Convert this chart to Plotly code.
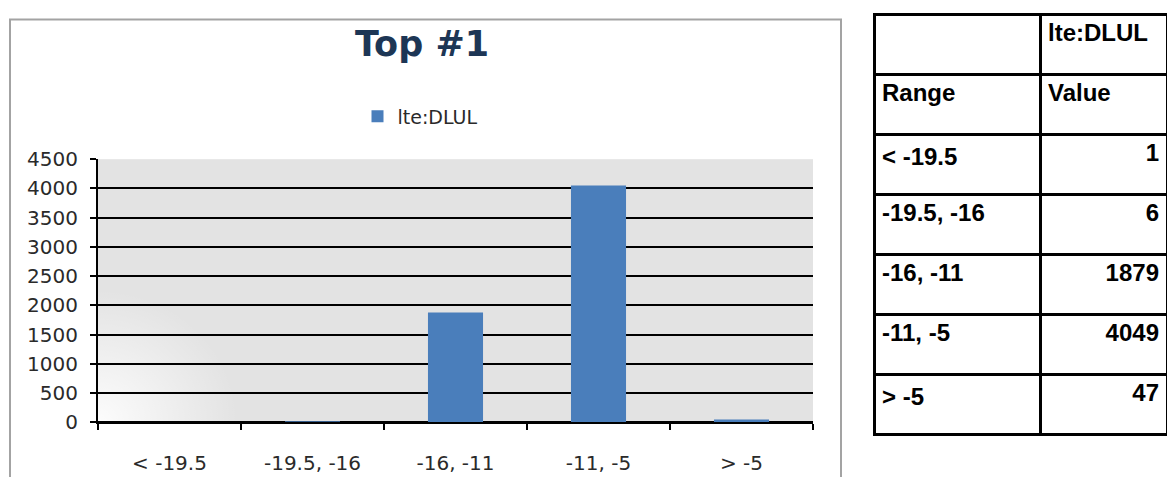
import base64
import plotly.graph_objects as go

# Signal-range histogram for lte:DLUL
ranges = ["< -19.5", "-19.5, -16", "-16, -11", "-11, -5", "> -5"]
counts = [1, 6, 1879, 4049, 47]
series_name = "lte:DLUL"
chart_title = "Top #1"
y_ticks = [0, 500, 1000, 1500, 2000, 2500, 3000, 3500, 4000, 4500]

W, H = 1167, 477

def px_x(v):
    return v / W

def px_y(v):
    return (H - v) / H

def html_escape(s):
    return s.replace("&", "&amp;").replace("<", "&lt;").replace(">", "&gt;")

BAR_BLUE = "#4a7ebb"
PLOT_GREY = "#e3e3e3"
TEXT_DARK = "#2a2a2a"

fig = go.Figure()

fig.add_trace(go.Bar(
    x=ranges,
    y=counts,
    name=series_name,
    width=0.385,
    marker=dict(color=BAR_BLUE, line=dict(width=0)),
    showlegend=True,
))

# Data table beside the chart: two header rows, then one row per range
table_font = dict(family="Liberation Sans", size=24, color="black", weight="bold")
table_line = dict(color="black", width=3)
ROW_H = 60

fig.add_trace(go.Table(
    domain=dict(x=[px_x(874), 1.0], y=[0.0, px_y(3)]),
    columnwidth=[166, 127],
    header=dict(
        values=[["", "Range"], [series_name, "Value"]],
        align="left",
        height=ROW_H,
        line=table_line,
        fill_color="white",
        font=table_font,
    ),
    cells=dict(
        values=[[html_escape(r) for r in ranges], [str(c) for c in counts]],
        align=["left", "right"],
        height=ROW_H,
        line=table_line,
        fill_color="white",
        font=table_font,
    ),
))

# Soft white glow in the lower-left corner of the plot area
glow_svg = (
    '<svg xmlns="http://www.w3.org/2000/svg" width="715" height="277" '
    'viewBox="0 0 715 277" preserveAspectRatio="none">'
    '<defs><radialGradient id="g" cx="0" cy="277" r="140" gradientUnits="userSpaceOnUse">'
    '<stop offset="0" stop-color="#ffffff" stop-opacity="0.9"/>'
    '<stop offset="1" stop-color="#ffffff" stop-opacity="0"/>'
    '</radialGradient></defs>'
    '<rect x="0" y="0" width="715" height="277" fill="url(#g)"/></svg>'
)
glow_uri = "data:image/svg+xml;base64," + base64.b64encode(glow_svg.encode()).decode()

fig.update_layout(
    width=W,
    height=H,
    margin=dict(l=0, r=0, t=0, b=0),
    paper_bgcolor="white",
    plot_bgcolor=PLOT_GREY,
    font=dict(family="DejaVu Sans", size=20, color=TEXT_DARK),
    title=dict(
        text=chart_title,
        x=px_x(422), xanchor="center",
        y=px_y(33), yanchor="middle",
        xref="paper", yref="paper",
        font=dict(family="DejaVu Sans", size=35, color="#1d3655", weight="bold"),
    ),
    legend=dict(
        orientation="h",
        x=px_x(420), xanchor="center",
        y=px_y(110), yanchor="middle",
        bgcolor="rgba(0,0,0,0)",
        font=dict(family="DejaVu Sans", size=19, color=TEXT_DARK),
        itemwidth=30,
    ),
    xaxis=dict(
        domain=[px_x(98), px_x(813)],
        type="category",
        tickson="boundaries",
        ticks="outside",
        ticklen=6,
        tickwidth=2,
        tickcolor="black",
        showline=True,
        linecolor="black",
        linewidth=2,
        showgrid=False,
        ticklabelstandoff=22,
        tickfont=dict(family="DejaVu Sans", size=20, color=TEXT_DARK),
        fixedrange=True,
    ),
    yaxis=dict(
        domain=[px_y(432), px_y(155)],
        range=[0, 4500],
        tickvals=y_ticks,
        ticks="outside",
        ticklen=6,
        tickwidth=2,
        tickcolor="black",
        showline=True,
        linecolor="black",
        linewidth=2,
        showgrid=True,
        gridcolor="black",
        gridwidth=2,
        zeroline=True,
        zerolinecolor="black",
        zerolinewidth=2,
        tickfont=dict(family="DejaVu Sans", size=20, color=TEXT_DARK),
        ticklabelstandoff=8,
        fixedrange=True,
    ),
    images=[dict(
        source=glow_uri,
        xref="x domain", yref="y domain",
        x=0, y=0, sizex=1, sizey=1,
        xanchor="left", yanchor="bottom",
        sizing="stretch",
        layer="below",
    )],
    shapes=[
        # Chart frame (open at the bottom edge of the page)
        dict(
            type="path", xref="paper", yref="paper",
            path=(f"M {px_x(10)} {px_y(530)} L {px_x(10)} {px_y(8)} "
                  f"L {px_x(841)} {px_y(8)} L {px_x(841)} {px_y(530)}"),
            line=dict(color="#a3a3a3", width=2),
            layer="below",
        ),
    ],
    bargap=0.615,
)

fig.write_html("out.html")
